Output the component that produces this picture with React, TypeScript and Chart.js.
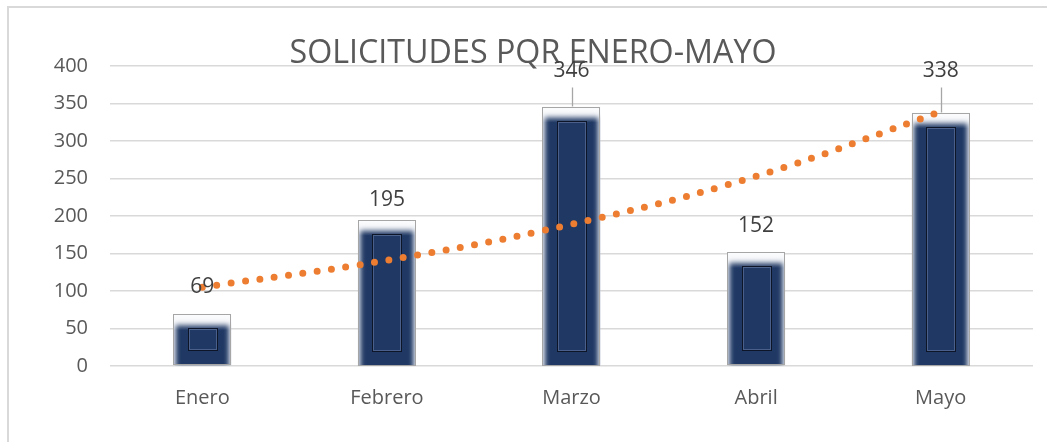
import React, { useEffect, useRef } from "react";
import { Chart, registerables } from "chart.js";

Chart.register(...registerables);

const categories = ["Enero", "Febrero", "Marzo", "Abril", "Mayo"];
const requests = [69, 195, 346, 152, 338];
const trendValues = [105, 141, 189, 253, 339];
const yTicks = [0, 50, 100, 150, 200, 250, 300, 350, 400];
const titleText = "SOLICITUDES PQR ENERO-MAYO";

// label offsets above the bar top (style only)
const labelOffsets = [27, 20, 35, 26, 41];
const leaderLines = [false, false, true, false, true];

const NAVY = "#1f3864";
const FONT = "'Open Sans', 'Noto Sans', sans-serif";

function drawFancyBar(ctx: CanvasRenderingContext2D, x: number, top: number, base: number, w: number) {
  const l = x - w / 2;
  const r = x + w / 2;
  const h = base - top;
  ctx.save();
  ctx.beginPath();
  ctx.rect(l, top, w, h);
  ctx.clip();
  ctx.fillStyle = "#eef1f6";
  ctx.fillRect(l, top, w, h);
  ctx.filter = "blur(2.5px)";
  ctx.fillStyle = NAVY;
  ctx.fillRect(l + 2.5, top + 10, w - 5, h + 10);
  ctx.filter = "none";
  const g = ctx.createLinearGradient(0, top, 0, top + 16);
  g.addColorStop(0, "rgba(255,255,255,0.85)");
  g.addColorStop(1, "rgba(255,255,255,0)");
  ctx.fillStyle = g;
  ctx.fillRect(l, top, w, 16);
  ctx.restore();

  ctx.save();
  ctx.strokeStyle = "#a6a6a6";
  ctx.lineWidth = 1;
  ctx.strokeRect(Math.round(l) + 0.5, Math.round(top) + 0.5, Math.round(w) - 1, Math.round(h) - 1);
  const il = l + w * 0.25;
  const ir = r - w * 0.25;
  const it = top + 14;
  const ib = base - 15;
  if (ib > it) {
    ctx.strokeStyle = "#0c1628";
    ctx.strokeRect(Math.round(il) + 0.5, Math.round(it) + 0.5, Math.round(ir - il), Math.round(ib - it));
    ctx.strokeStyle = "rgba(110,130,170,0.55)";
    ctx.strokeRect(Math.round(il) + 1.5, Math.round(it) + 1.5, Math.round(ir - il) - 2, Math.round(ib - it) - 2);
  }
  ctx.restore();
}

const decorPlugin = {
  id: "decor",
  beforeDraw(chart: any) {
    const ctx = chart.ctx as CanvasRenderingContext2D;
    ctx.save();
    ctx.fillStyle = "#ffffff";
    ctx.fillRect(0, 0, chart.width, chart.height);
    ctx.strokeStyle = "#d9d9d9";
    ctx.lineWidth = 2;
    ctx.beginPath();
    ctx.moveTo(8, chart.height);
    ctx.lineTo(8, 7);
    ctx.lineTo(chart.width, 7);
    ctx.stroke();
    ctx.restore();
  },
  beforeDatasetsDraw(chart: any) {
    const ctx = chart.ctx as CanvasRenderingContext2D;
    ctx.save();
    ctx.fillStyle = "#595959";
    ctx.font = `33px ${FONT}`;
    ctx.textAlign = "center";
    ctx.textBaseline = "alphabetic";
    ctx.fillText(titleText, 533, 63, 487);
    ctx.restore();
  },
  afterDatasetDraw(chart: any, args: any) {
    if (args.index !== 0) return;
    const ctx = chart.ctx as CanvasRenderingContext2D;
    const meta = chart.getDatasetMeta(0);
    meta.data.forEach((bar: any) => {
      drawFancyBar(ctx, bar.x, bar.y, bar.base, bar.width);
    });
  },
  afterDatasetsDraw(chart: any) {
    const ctx = chart.ctx as CanvasRenderingContext2D;
    const meta = chart.getDatasetMeta(0);
    ctx.save();
    ctx.font = `21px ${FONT}`;
    ctx.fillStyle = "#404040";
    ctx.textAlign = "center";
    ctx.textBaseline = "middle";
    meta.data.forEach((bar: any, i: number) => {
      const cy = bar.y - labelOffsets[i];
      if (leaderLines[i]) {
        ctx.strokeStyle = "#a6a6a6";
        ctx.lineWidth = 1.3;
        ctx.beginPath();
        ctx.moveTo(Math.round(bar.x) + 0.5, cy + 16);
        ctx.lineTo(Math.round(bar.x) + 0.5, bar.y);
        ctx.stroke();
      }
      ctx.fillText(String(requests[i]), bar.x, cy);
    });
    ctx.restore();
  },
};

export default function App() {
  const canvasRef = useRef<HTMLCanvasElement | null>(null);

  useEffect(() => {
    if (!canvasRef.current) return;
    const chart = new Chart(canvasRef.current, {
      type: "bar",
      data: {
        labels: categories,
        datasets: [
          {
            type: "bar",
            label: "Solicitudes",
            data: requests,
            backgroundColor: "rgba(0,0,0,0)",
            borderWidth: 0,
            categoryPercentage: 1,
            barPercentage: 0.315,
            order: 2,
          },
          {
            type: "line",
            label: "Tendencia",
            data: trendValues,
            borderColor: "#ED7D31",
            borderWidth: 7,
            borderDash: [0, 14.5],
            borderCapStyle: "round",
            pointRadius: 0,
            tension: 0.4,
            fill: false,
            order: 1,
          } as any,
        ],
      },
      options: {
        animation: false,
        responsive: false,
        maintainAspectRatio: false,
        layout: { padding: { left: 0, right: 14, top: 66, bottom: 0 } },
        plugins: {
          legend: { display: false },
          tooltip: { enabled: false },
          title: { display: false },
        },
        scales: {
          x: {
            grid: { display: false, drawTicks: false },
            border: { display: false },
            ticks: {
              color: "#595959",
              font: { family: FONT, size: 20 },
              padding: 20,
            },
            afterFit: (scale: any) => {
              scale.height = 76;
            },
          },
          y: {
            min: 0,
            max: 400,
            afterBuildTicks: (scale: any) => {
              scale.ticks = yTicks.map((v) => ({ value: v }));
            },
            grid: { color: "#d9d9d9", lineWidth: 1.5, drawTicks: false },
            border: { display: false },
            ticks: {
              color: "#595959",
              font: { family: FONT, size: 20 },
              padding: 22,
            },
            afterFit: (scale: any) => {
              scale.width = 110;
            },
          },
        },
      },
      plugins: [decorPlugin],
    });
    return () => chart.destroy();
  }, []);

  return (
    <div style={{ position: "absolute", left: 0, top: 0, width: 1047, height: 442 }}>
      <canvas ref={canvasRef} width={1047} height={442} style={{ display: "block", width: 1047, height: 442 }} />
    </div>
  );
}
